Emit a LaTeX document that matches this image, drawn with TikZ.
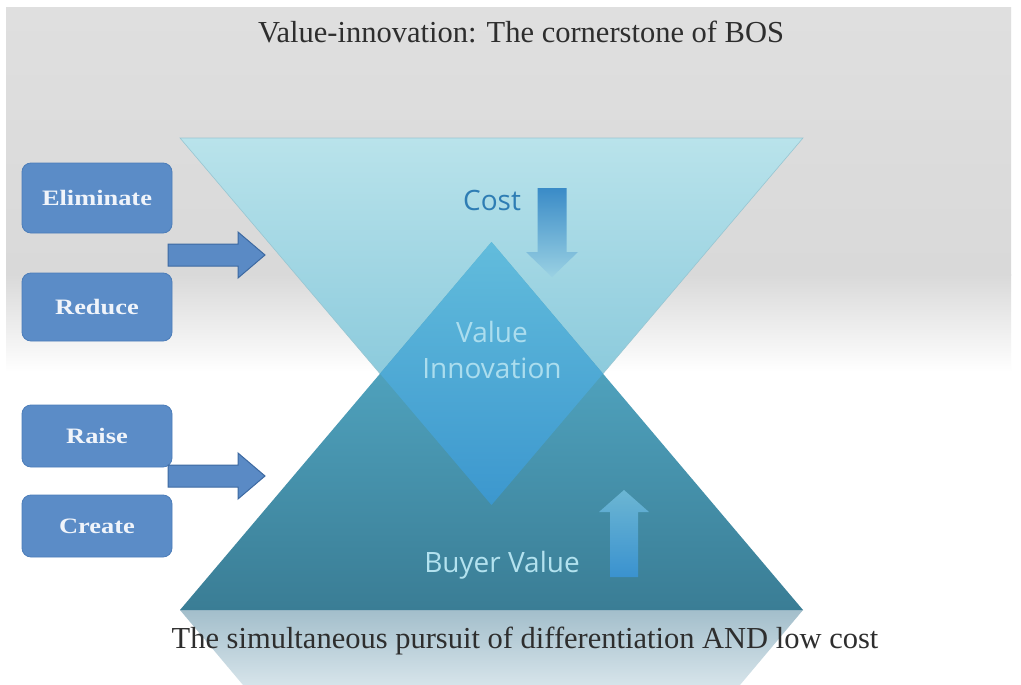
\documentclass[tikz,border=0pt]{standalone}
\usepackage{fontspec}
\setmainfont{Liberation Serif}
\newfontfamily\labelfont[FakeStretch=1.2]{Liberation Serif}
\newfontfamily\uisans{Open Sans}

\definecolor{bggray}{HTML}{DFDFDF}
\definecolor{bggraylow}{HTML}{D9D9D9}
\definecolor{toptop}{RGB}{185,227,235}
\definecolor{topbot}{RGB}{115,189,212}
\definecolor{toprim}{HTML}{98C6D2}
\definecolor{bottop}{HTML}{5AB5D2}
\definecolor{botbot}{HTML}{3A7D95}
\definecolor{diatop}{HTML}{62BCDC}
\definecolor{diabot}{HTML}{3C97CE}
\definecolor{reftop}{HTML}{A3BECB}
\definecolor{refbot}{HTML}{D6E4EA}
\definecolor{opfill}{HTML}{5B8CC7}
\definecolor{opedge}{HTML}{4C7DB9}
\definecolor{optext}{HTML}{F0F4FA}
\definecolor{pushfill}{HTML}{5A8AC5}
\definecolor{pushedge}{HTML}{3D69A1}
\definecolor{costtext}{HTML}{2E7DB4}
\definecolor{vitext}{HTML}{ABDDEE}
\definecolor{bvtext}{HTML}{B3E2EF}
\definecolor{costhi}{HTML}{3A8BC7}
\definecolor{costlo}{HTML}{9AD1E3}
\definecolor{bvhi}{HTML}{6CB6D3}
\definecolor{bvlo}{HTML}{3A92CF}
\definecolor{ink}{HTML}{2E2E2E}

\tikzset{
  opbox/.style={rounded corners=9pt, fill=opfill, draw=opedge, line width=0.8pt,
    minimum width=150pt, text=optext, inner sep=0pt,
    font=\labelfont\bfseries\fontsize{22}{26}\selectfont},
  pusharrow/.style={fill=pushfill, draw=pushedge, line width=1pt, line join=miter},
  serifline/.style={text=ink, anchor=base, inner sep=0pt,
    font=\fontsize{30.5}{34}\selectfont},
  sanslabel/.style={anchor=base, inner sep=0pt,
    font=\uisans\fontsize{28}{32}\selectfont}
}

\begin{document}
\begin{tikzpicture}[x=1pt,y=-1pt]
\useasboundingbox (0,0) rectangle (1021,685);

% backdrop: grey slide top fading to white
\fill[white] (0,0) rectangle (1021,685);
\shade[top color=bggray, bottom color=bggraylow] (6,8) rectangle (1011,275);
\shade[top color=bggraylow, bottom color=white] (6,274.5) rectangle (1011,372);

% corner points of the two triangles and the reflection
\coordinate (TL) at (180,138);
\coordinate (TR) at (803,138);
\coordinate (tApex) at (491.5,505);
\coordinate (BL) at (180,610);
\coordinate (BR) at (803,610);
\coordinate (bApex) at (491.5,242);
\coordinate (RL) at (243,685);
\coordinate (RR) at (740,685);

% mirrored reflection under the base
\shade[top color=reftop, bottom color=refbot] (BL) -- (BR) -- (RR) -- (RL) -- cycle;

% cost triangle (pointing down)
\shade[top color=toptop, bottom color=topbot, draw=toprim, line width=0.6pt]
  (TL) -- (TR) -- (tApex) -- cycle;
% buyer value triangle (pointing up)
\shade[top color=bottop, bottom color=botbot] (BL) -- (BR) -- (bApex) -- cycle;
% overlap: value innovation diamond
\shade[top color=diatop, bottom color=diabot]
  (bApex) -- (intersection of TR--tApex and BR--bApex) -- (tApex)
  -- (intersection of TL--tApex and BL--bApex) -- cycle;

% titles
\node[serifline] (title) at (521,43) {Value-innovation: The cornerstone of BOS};
\node[serifline] (caption) at (525,648) {The simultaneous pursuit of differentiation AND low cost};

% four actions
\node[opbox, minimum height=70pt] (elim) at (97,198) {Eliminate};
\node[opbox, minimum height=68pt] (reduce) at (97,307) {Reduce};
\node[opbox, minimum height=62pt] (raise) at (97,436) {Raise};
\node[opbox, minimum height=62pt] (create) at (97,526) {Create};

% block arrows pushing into the triangles (tail centre given)
\coordinate (pushcost) at (168,255);
\coordinate (pushvalue) at (168,476);
\foreach \p in {pushcost,pushvalue}
  \draw[pusharrow] (\p) ++(0,-11) -- ++(70,0) -- ++(0,-12) -- ++(27,23)
    -- ++(-27,23) -- ++(0,-12) -- ++(-70,0) -- cycle;

% labels and direction arrows inside the triangles
\node[sanslabel, text=costtext] (cost) at (492,210) {Cost};
\coordinate (costarrow) at (552,188);
\shade[top color=costhi, bottom color=costlo]
  (costarrow) ++(-14.5,0) -- ++(29,0) -- ++(0,64) -- ++(11.5,0) -- ++(-26,25)
  -- ++(-26,-25) -- ++(11.5,0) -- cycle;

\node[sanslabel, text=vitext] (vi1) at (492,342) {Value};
\node[sanslabel, text=vitext] (vi2) at (492,378) {Innovation};

\node[sanslabel, text=bvtext] (bv) at (502,572) {Buyer Value};
\coordinate (bvarrow) at (624,577);
\shade[top color=bvhi, bottom color=bvlo]
  (bvarrow) ++(-14,0) -- ++(28,0) -- ++(0,-65) -- ++(11,0) -- ++(-25,-22)
  -- ++(-25,22) -- ++(11,0) -- cycle;
\end{tikzpicture}
\end{document}
